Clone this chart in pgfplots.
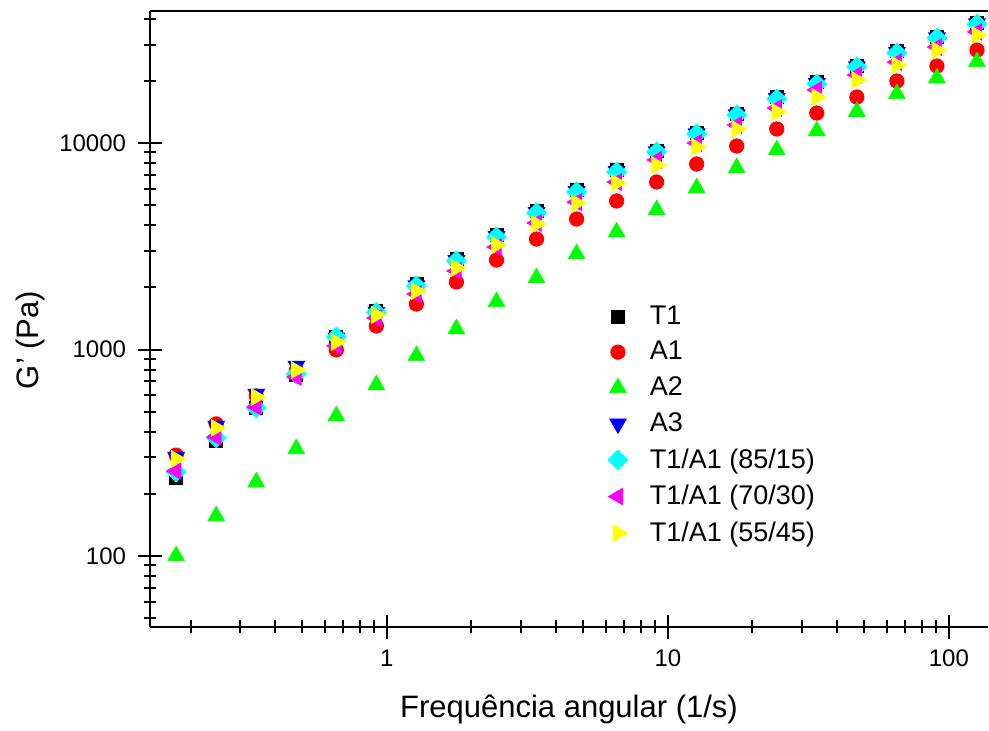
\documentclass[border=0pt]{standalone}
\usepackage{fontspec}
\setmainfont{Liberation Sans}
\usepackage{pgfplots}
\pgfplotsset{compat=1.18}
\definecolor{gT1}{RGB}{0,0,0}
\definecolor{gA1}{RGB}{255,0,0}
\definecolor{gA2}{RGB}{0,255,0}
\definecolor{gA3}{RGB}{0,0,255}
\definecolor{gCA}{RGB}{0,255,255}
\definecolor{gCB}{RGB}{255,0,255}
\definecolor{gCC}{RGB}{255,255,0}

% G' frequency sweep, columns: x, T1, A1, A2, A3, 85/15, 70/30, 55/45
\pgfplotstableread{
x      T1     A1     A2     A3     CA     CB     CC
0.1778 239    308    100    301    255    258    295
0.2469 360    436    156    426    373    377    417
0.3428 521    596    228    609    521    527    589
0.4760 753    790    330    832    760    736    796
0.6607 1151   995    476    1140   1151   1040   1087
0.9173 1535   1300   673    1520   1510   1421   1469
1.2735 2075   1660   931    2040   2030   1857   1918
1.768  2742   2123   1257   2700   2683   2400   2483
2.455  3580   2712   1700   3530   3505   3135   3206
3.408  4690   3427   2220   4620   4585   4100   4055
4.732  5918   4285   2900   5830   5790   5170   5120
6.570  7390   5240   3700   7290   7240   6470   6400
9.120  9150   6475   4740   9090   9045   8280   7820
12.66  11180  7915   6050   11100  11060  10000  9565
17.58  13800  9670   7570   13720  13670  12220  11690
24.41  16700  11690  9250   16450  16330  14770  14130
33.88  19730  13970  11430  19450  19300  18070  16700
47.05  23600  16700  14200  23450  23330  21340  20170
65.31  27930  19960  17300  27500  27300  24660  23880
90.68  32600  23600  20600  32400  32240  29170  28160
125.9  38100  28170  24700  37900  37670  34520  33350
}\gdata

\begin{document}
\begin{tikzpicture}
\begin{axis}[
    scale only axis,
    width=419pt, height=308pt,
    xmode=log, ymode=log,
    xmin=0.1435, xmax=137.8,
    ymin=45.3, ymax=43600,
    axis x line*=bottom, axis y line*=left,
    axis line style={line width=1pt, -},
    xtick={1,10,100}, xticklabels={1,10,100},
    ytick={100,1000,10000}, yticklabels={100,1000,10000},
    minor xtick={0.2,0.3,0.4,0.5,0.6,0.7,0.8,0.9,2,3,4,5,6,7,8,9,20,30,40,50,60,70,80,90},
    minor ytick={50,60,70,80,90,200,300,400,500,600,700,800,900,2000,3000,4000,5000,6000,7000,8000,9000,20000,30000,40000},
    tick align=center,
    major tick length=12pt, minor tick length=6.5pt,
    tick style={line width=1pt, black},
    tick label style={font=\fontsize{12}{14}\selectfont},
    yticklabel style={xshift=-2.5pt},
    xticklabel style={yshift=-2pt},
    xlabel={Frequência angular (1/s)},
    ylabel={G' (Pa)},
    label style={font=\fontsize{15.5}{18}\selectfont},
    xlabel style={at={(axis description cs:0.5,-0.134)}, anchor=center},
    ylabel style={at={(axis description cs:-0.143,0.466)}, anchor=center},
    legend style={draw=none, fill=none, at={(axis description cs:0.539,0.535)},
        anchor=north west, font=\fontsize{13.5}{16}\selectfont,
        row sep=3pt, column sep=9pt},
    legend cell align=left,
]
\addplot[only marks, mark=square*, mark size=3.25pt, gT1] table[x=x, y=T1] {\gdata};
\addlegendentry{T1}
\addplot[only marks, mark=*, mark size=3.6pt, gA1] table[x=x, y=A1] {\gdata};
\addlegendentry{A1}
\addplot[only marks, mark=triangle*, mark size=4.8pt, gA2] table[x=x, y=A2] {\gdata};
\addlegendentry{A2}
\addplot[only marks, mark=triangle*, mark size=4.8pt, gA3, mark options={rotate=180}] table[x=x, y=A3] {\gdata};
\addlegendentry{A3}
\addplot[only marks, mark=square*, mark size=3.5pt, gCA, mark options={rotate=45}] table[x=x, y=CA] {\gdata};
\addlegendentry{T1/A1 (85/15)}
\addplot[only marks, mark=triangle*, mark size=4.8pt, gCB, mark options={rotate=90}] table[x=x, y=CB] {\gdata};
\addlegendentry{T1/A1 (70/30)}
\addplot[only marks, mark=triangle*, mark size=4.8pt, gCC, mark options={rotate=-90}] table[x=x, y=CC] {\gdata};
\addlegendentry{T1/A1 (55/45)}
\draw[line width=1.2pt] (rel axis cs:0,1) -- (rel axis cs:1,1);
\draw[line width=0.5pt, black!35] (rel axis cs:1,0) -- (rel axis cs:1,1);
\end{axis}
\path[draw=none] ([xshift=-75pt,yshift=-51pt]current axis.south west) rectangle ([xshift=0.5pt,yshift=5.5pt]current axis.north east);
\end{tikzpicture}
\end{document}
